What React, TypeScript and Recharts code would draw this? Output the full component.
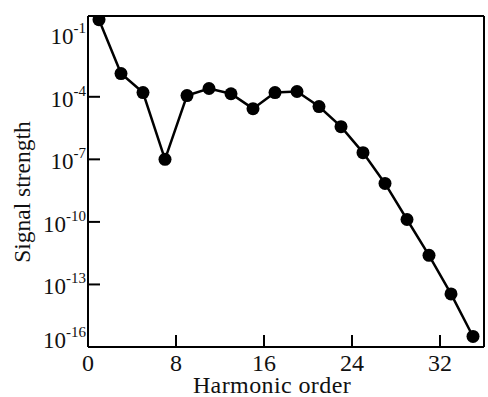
import React from 'react';
import { LineChart, Line, XAxis, YAxis, ReferenceLine } from 'recharts';

// harmonic order (odd harmonics only)
const harmonics = [1, 3, 5, 7, 9, 11, 13, 15, 17, 19, 21, 23, 25, 27, 29, 31, 33, 35];
// signal strength
const strength = [
  0.5, 1.3e-3, 1.6e-4, 1e-7, 1.15e-4, 2.5e-4, 1.4e-4, 2.7e-5, 1.6e-4,
  1.8e-4, 3.4e-5, 3.7e-6, 2.1e-7, 7e-9, 1.3e-10, 2.5e-12, 3.5e-14, 3.2e-16,
];
const xTicks = [0, 8, 16, 24, 32];
const yExponents = [-1, -4, -7, -10, -13, -16];
const yTicks = yExponents.map((e) => Math.pow(10, e));

const data = harmonics.map((h, i) => ({ order: h, signal: strength[i] }));

const FONT = '"Liberation Serif", "DejaVu Serif", serif';

const XTick = ({ x, y, payload }: any) => {
  const axisY = y - 8;
  return (
    <g>
      {payload.value !== 0 && (
        <line x1={x} y1={axisY} x2={x} y2={axisY - 12} stroke="#000" strokeWidth={2} />
      )}
      <text x={x} y={axisY + 24} textAnchor="middle" fontFamily={FONT} fontSize={24} fill="#111">
        {payload.value}
      </text>
    </g>
  );
};

const YTick = ({ x, y, payload }: any) => {
  const axisX = x + 8;
  const exp = Math.round(Math.log10(payload.value));
  return (
    <g>
      {exp !== -16 && exp !== -1 && (
        <line x1={axisX} y1={y} x2={axisX + 12} y2={y} stroke="#000" strokeWidth={2} />
      )}
      <text x={axisX - 2} y={exp === -16 ? y + 1 : y + 10} textAnchor="end" fontFamily={FONT} fill="#111">
        <tspan fontSize={23}>10</tspan>
        <tspan fontSize={15} dy={-11}>{exp}</tspan>
      </text>
    </g>
  );
};

const XLabel = ({ viewBox }: any) => (
  <text
    x={viewBox.x + 184}
    y={viewBox.y + 46}
    textAnchor="middle"
    fontFamily={FONT}
    fontSize={24}
    letterSpacing={0.4}
    fill="#111"
  >
    Harmonic order
  </text>
);

const YLabel = () => (
  <text
    x={0}
    y={0}
    transform="translate(30, 192) rotate(-90)"
    textAnchor="middle"
    fontFamily={FONT}
    fontSize={23.5}
    fill="#111"
  >
    Signal strength
  </text>
);

export default function App() {
  return (
    <div style={{ position: 'absolute', left: 0, top: 0, width: 488, height: 397, background: '#fff' }}>
      <LineChart width={488} height={397} data={data} margin={{ top: 16, right: 4, left: 0, bottom: 0 }}>
        <XAxis
          dataKey="order"
          type="number"
          domain={[0, 36]}
          ticks={xTicks}
          allowDataOverflow
          height={50}
          stroke="#000"
          strokeWidth={2}
          tickLine={false}
          tick={<XTick />}
          label={<XLabel />}
        />
        <YAxis
          dataKey="signal"
          type="number"
          scale="log"
          domain={[1e-16, 0.75]}
          ticks={yTicks}
          allowDataOverflow
          width={88}
          stroke="#000"
          strokeWidth={2}
          tickLine={false}
          tick={<YTick />}
          label={<YLabel />}
        />
        <ReferenceLine y={0.75} stroke="#000" strokeWidth={2} ifOverflow="extendDomain" />
        <ReferenceLine x={36} stroke="#000" strokeWidth={2} ifOverflow="extendDomain" />
        <Line
          dataKey="signal"
          stroke="#000"
          strokeWidth={2.5}
          dot={{ r: 6.5, fill: '#000', stroke: '#000', strokeWidth: 0 }}
          isAnimationActive={false}
        />
      </LineChart>
    </div>
  );
}
